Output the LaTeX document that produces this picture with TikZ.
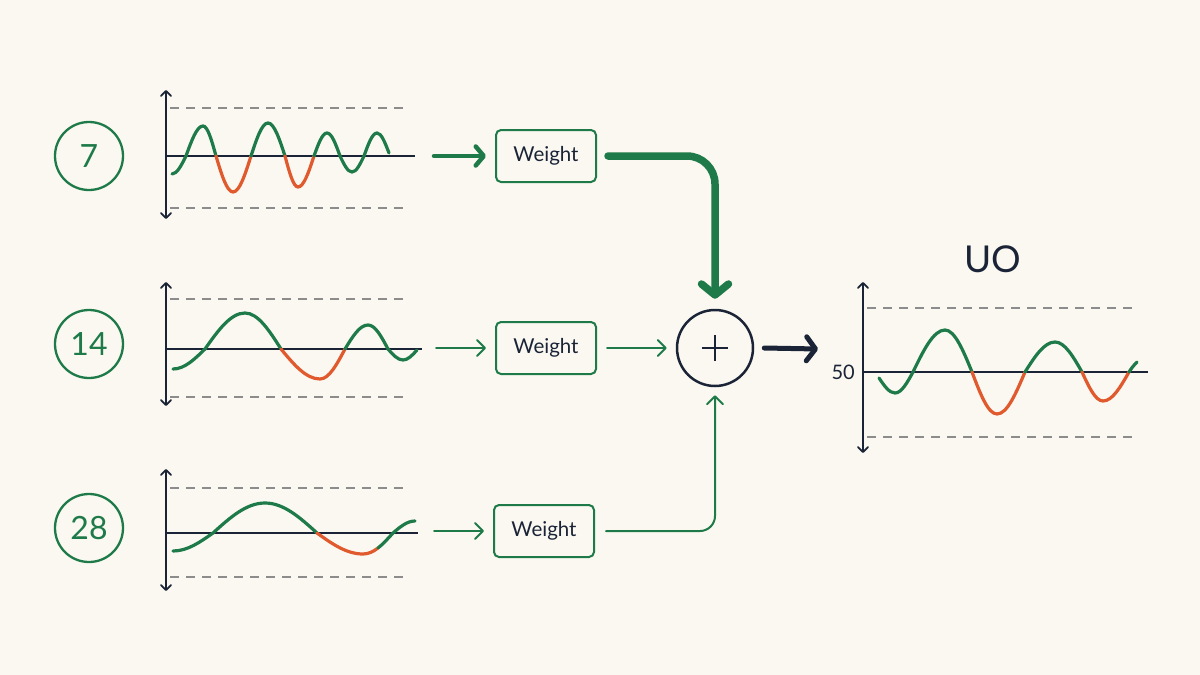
\documentclass[tikz,border=0pt]{standalone}
\usepackage{fontspec}
\setmainfont{Lato}
\usetikzlibrary{arrows.meta}
\definecolor{bg}{HTML}{FAF8F1}
\definecolor{grn}{HTML}{1E7A48}
\definecolor{org}{HTML}{E05A2E}
\definecolor{navy}{HTML}{1B2437}
\definecolor{dgray}{HTML}{8C8C8C}
\begin{document}
\begin{tikzpicture}[x=1pt,y=-1pt,
  wavegreen/.style={grn, line width=3.2pt, line cap=round},
  wavered/.style={org, line width=3.2pt, line cap=round},
  axis/.style={navy, line width=1.8pt, {Straight Barb[round,length=5pt,width=10pt]}-{Straight Barb[round,length=5pt,width=10pt]}},
  base/.style={navy, line width=1.8pt},
  limit/.style={dgray, line width=1.6pt, dash pattern=on 9pt off 7pt},
  numcirc/.style={circle, draw=grn, line width=2.3pt, minimum size=68pt, inner sep=0pt, text=grn, font=\fontsize{32}{32}\selectfont},
  wbox/.style={draw=grn, line width=2pt, rounded corners=5pt, minimum width=100pt, minimum height=52pt, text=navy, font=\fontsize{20.5}{20.5}\selectfont},
  flowthin/.style={grn, line width=2pt, line cap=round, -{Straight Barb[round,length=8pt,width=16pt]}},
  flowmid/.style={grn, line width=4.5pt, line cap=round, -{Straight Barb[round,length=8pt,width=19pt]}},
  flowbig/.style={grn, line width=7.5pt, line cap=round, -{Straight Barb[round,length=11pt,width=27pt]}},
  outarrow/.style={navy, line width=5pt, line cap=round, -{Straight Barb[round,length=9pt,width=24pt]}},
  sumcirc/.style={circle, draw=navy, line width=2.5pt, minimum size=76pt, inner sep=0pt},
]
\fill[bg] (0,0) rectangle (1200,675);
\useasboundingbox (0,0) rectangle (1200,675);

% ---------- chart 1 (7) ----------
\node[numcirc] (n7) at (89,156) {7};
\draw[limit] (170,108) -- (408,108);
\draw[limit] (170,208) -- (408,208);
\draw[base] (166,156) -- (415,156);
\draw[axis] (166,90) -- (166,219);
\draw[wavegreen] (172,174) cos (186,156) sin (203,126) cos (216,156);
\draw[wavered] (216,156) sin (233,192) cos (251,156);
\draw[wavegreen] (251,156) sin (268,123) cos (285,156);
\draw[wavered] (285,156) sin (298,187) cos (314,156);
\draw[wavegreen] (314,156) sin (327,133) cos (340,156) sin (352,172) cos (364,156) sin (377,133) cos (389,153);
\coordinate (c1) at (434,156);

% ---------- chart 2 (14) ----------
\node[numcirc] (n14) at (89,344) {14};
\draw[limit] (170,299) -- (410,299);
\draw[limit] (170,397) -- (410,397);
\draw[base] (166,349) -- (422,349);
\draw[axis] (166,282) -- (166,406);
\draw[wavegreen] (173,369) cos (205,349) sin (245,313) cos (281,349);
\draw[wavered] (281,349) sin (320,379) cos (345,349);
\draw[wavegreen] (345,349) sin (368,325) cos (388,349) sin (403,360) cos (417,350);
\coordinate (c2) at (436,348);

% ---------- chart 3 (28) ----------
\node[numcirc] (n28) at (89,528) {28};
\draw[limit] (170,488) -- (408,488);
\draw[limit] (170,577) -- (408,577);
\draw[base] (166,533) -- (418,533);
\draw[axis] (166,469) -- (166,591);
\draw[wavegreen] (173,551) cos (213,533) sin (265,503) cos (317,533);
\draw[wavered] (317,533) sin (363,554) .. controls (368,554) and (373,551.9) .. (378,548);
\draw[wavegreen] (378,548) .. controls (383,544.1) and (388,538.5) .. (393,533) sin (415,521);
\coordinate (c3) at (434,531);

% ---------- weight boxes ----------
\node[wbox] (w1) at (546,156) {Weight};
\node[wbox] (w2) at (546,348) {Weight};
\node[wbox] (w3) at (544,531) {Weight};

% ---------- sum ----------
\node[sumcirc] (plus) at (715,348) {};
\draw[navy, line width=2.6pt] (702,348) -- (728,348);
\draw[navy, line width=2.6pt] (715,335) -- (715,361);

% ---------- output chart ----------
\node[font=\fontsize{37}{37}\selectfont, text=navy] (uo) at (993,259) {UO};
\draw[limit] (867,308) -- (1132,308);
\draw[limit] (867,437) -- (1132,437);
\draw[base] (863,372) -- (1148,372);
\draw[axis] (863,282) -- (863,453);
\node[anchor=east, font=\fontsize{20}{20}\selectfont, text=navy, inner sep=0pt] (fifty) at (855,372) {50};
\draw[wavegreen] (879,378) sin (895,393) cos (913,372) sin (945,330) cos (972,372);
\draw[wavered] (972,372) sin (997,414) cos (1025,372);
\draw[wavegreen] (1025,372) sin (1055,342) cos (1082,372);
\draw[wavered] (1082,372) sin (1103,401) cos (1129,372);
\draw[wavegreen] (1129,372) .. controls (1131,369) and (1133,366) .. (1137,362);
\coordinate (outc) at (818,349);

% ---------- connectors ----------
\draw[flowmid, shorten >=9pt] (c1) -- (c1 -| w1.west);
\draw[flowthin, shorten >=9pt] (c2) -- (c2 -| w2.west);
\draw[flowthin, shorten >=9pt] (c3) -- (c3 -| w3.west);
\draw[flowbig, rounded corners=28pt, shorten >=10pt] ([xshift=11pt]w1.east) -| (plus.north);
\draw[flowthin, shorten >=9pt] ([xshift=10pt]w2.east) -- (plus.west);
\draw[flowthin, rounded corners=15pt, shorten >=8pt] ([xshift=11pt]w3.east) -| (plus.south);
\draw[outarrow] ([xshift=10pt]plus.east) -- (outc);
\end{tikzpicture}
\end{document}
